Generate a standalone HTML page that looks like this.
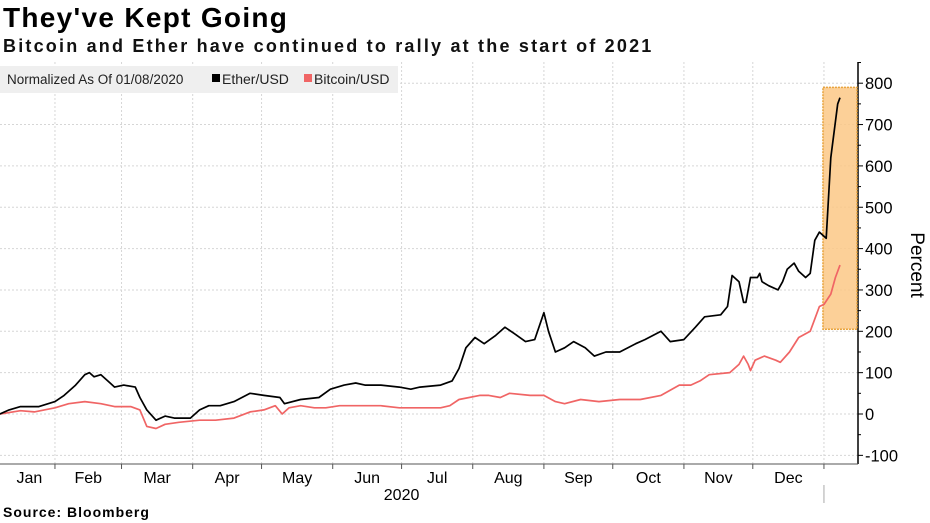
<!DOCTYPE html>
<html><head><meta charset="utf-8">
<style>
body{margin:0;background:#fff;width:930px;height:523px;overflow:hidden;font-family:"Liberation Sans",sans-serif;}
#title{position:absolute;left:3px;top:2px;font-size:28px;font-weight:bold;color:#000;letter-spacing:1.3px}
#subtitle{position:absolute;left:3px;top:36px;font-size:18px;font-weight:bold;color:#111;letter-spacing:2.2px}
#source{position:absolute;left:3px;top:504px;font-size:14px;font-weight:bold;color:#000;letter-spacing:1px}
svg{position:absolute;left:0;top:0}
</style></head><body>
<div id="title">They've Kept Going</div>
<div id="subtitle">Bitcoin and Ether have continued to rally at the start of 2021</div>
<div id="source">Source: Bloomberg</div>
<svg id="chart" width="930" height="523"></svg>
<script>
const etherDays=[7,11,16,24,31,35,40,44,46,48,51,55,57,61,66,68,71,75,79,83,90,94,98,103,109,116,122,129,131,138,146,151,157,162,166,173,181,186,190,199,204,207,210,214,218,223,227,231,236,240,244,246,249,253,257,262,266,271,277,284,288,295,299,305,310,314,321,324,326,329,331,332,334,337,338,339,342,346,348,350,353,355,358,360,362,364,367,369,372,373];
const etherVals=[0,10,18,18,30,45,70,95,100,90,95,75,65,70,65,40,10,-15,-5,-10,-10,10,20,20,30,50,45,40,25,35,40,60,70,75,70,70,65,60,65,70,80,110,160,185,170,190,210,195,175,180,245,200,150,160,175,160,140,150,150,170,180,200,175,180,210,235,240,260,335,320,270,270,330,330,340,320,310,300,320,350,365,345,330,340,420,440,425,620,750,765];
const btcDays=[7,16,22,31,37,44,51,57,64,68,71,75,79,85,94,101,109,116,122,127,130,133,138,144,149,155,164,173,181,190,199,203,207,216,220,225,229,238,244,249,253,260,268,277,286,295,303,308,312,316,325,329,331,333,334,336,340,345,347,351,355,360,362,364,366,369,371,373];
const btcVals=[0,8,5,15,25,30,25,18,18,10,-30,-35,-25,-20,-15,-15,-10,5,10,20,0,15,20,15,15,20,20,20,15,15,15,20,35,45,45,40,50,45,45,30,25,35,30,35,35,45,70,70,80,95,100,120,140,120,105,130,140,130,125,150,185,200,230,260,265,290,330,360];
const yTicks=[-100,0,100,200,300,400,500,600,700,800];
const monthLabels=["Jan","Feb","Mar","Apr","May","Jun","Jul","Aug","Sep","Oct","Nov","Dec"];
const monthStarts=[0,31,60,91,121,152,182,213,244,274,305,335,366];
const highlight={startDay:366,endDay:380,low:205,high:790};

const NS="http://www.w3.org/2000/svg";
const svg=document.getElementById('chart');
const X0=-16.2,PX=2.2955,PLOT_R=858,PLOT_T=62,PLOT_B=464;
const x=d=>X0+d*PX;
const y=v=>414-v*0.4135;
function mk(tag,attrs,parent){const e=document.createElementNS(NS,tag);for(const k in attrs)e.setAttribute(k,attrs[k]);(parent||svg).appendChild(e);return e;}

yTicks.forEach(t=>{
  const g=mk('line',{x1:0,x2:PLOT_R,y1:y(t),y2:y(t),stroke:'#d6d6d6','stroke-dasharray':'2,2','stroke-width':1});
  
  
  const tk=mk('line',{x1:PLOT_R,x2:PLOT_R+5,y1:y(t),y2:y(t),stroke:'#000'});
  
  
  const lb=mk('text',{x:PLOT_R+7,y:y(t)+6,'font-size':16.5,fill:'#000'});
  lb.textContent=t;
  
  
});
for(let v=-50;v<=850;v+=100){const m=mk('line',{x1:PLOT_R,x2:PLOT_R+3,y1:y(v),y2:y(v),stroke:'#000'});}
monthStarts.forEach((d,i)=>{
  if(i>0){
    const g=mk('line',{x1:x(d),x2:x(d),y1:PLOT_T,y2:PLOT_B,stroke:'#d6d6d6','stroke-dasharray':'2,2'});
    
    
    const tk=mk('line',{x1:x(d),x2:x(d),y1:PLOT_B,y2:PLOT_B+5,stroke:'#555'});
    
    
  }
  if(i<12){
    const lb=mk('text',{x:(x(d)+x(monthStarts[i+1]))/2+(i==0?10:0),y:PLOT_B+19,'font-size':16,'text-anchor':'middle',fill:'#000'});
    lb.textContent=monthLabels[i];
    
    
  }
});
const yr=mk('text',{x:x(182),y:PLOT_B+36,'font-size':16,'text-anchor':'middle',fill:'#000'});
yr.textContent='2020';


const ym=mk('line',{x1:x(366),x2:x(366),y1:485,y2:503,stroke:'#aaa'});


const ax=mk('line',{x1:PLOT_R,x2:PLOT_R,y1:PLOT_T,y2:PLOT_B,stroke:'#000','stroke-width':1.5});


const bx=mk('line',{x1:0,x2:PLOT_R,y1:PLOT_B,y2:PLOT_B,stroke:'#555'});


const yt=mk('text',{x:0,y:0,'font-size':19,fill:'#000','text-anchor':'middle',transform:'translate(911,265) rotate(90)'});
yt.textContent='Percent';


const hx1=x(highlight.startDay)-1, hx2=PLOT_R-1;
const hl=mk('rect',{x:hx1,y:y(highlight.high),width:hx2-hx1,height:y(highlight.low)-y(highlight.high),fill:'#fbc886','fill-opacity':0.85,stroke:'#e8a33c','stroke-dasharray':'2,1','stroke-width':1.5});


function line(days,vals,color,name){
  const p=mk('path',{d:days.map((d,i)=>(i?'L':'M')+x(d).toFixed(1)+','+y(vals[i]).toFixed(1)).join(''),fill:'none',stroke:color,'stroke-width':1.7,'stroke-linejoin':'round'});
  
  
}
line(btcDays,btcVals,'#f06565','bitcoin-line');
line(etherDays,etherVals,'#000','ether-line');
const lg=mk('g',{});


mk('rect',{x:0,y:66,width:398,height:27,fill:'#efefef'},lg);
const lt=mk('text',{x:7,y:84,'font-size':13.5,fill:'#222'},lg);lt.textContent='Normalized As Of 01/08/2020';


const e1=mk('rect',{x:212,y:74,width:8,height:8,fill:'#000'},lg);


const t1=mk('text',{x:222,y:84,'font-size':14,fill:'#222'},lg);t1.textContent='Ether/USD';


const e2=mk('rect',{x:304,y:74,width:8,height:8,fill:'#f06565'},lg);


const t2=mk('text',{x:314,y:84,'font-size':14,fill:'#222'},lg);t2.textContent='Bitcoin/USD';


</script>
</body></html>
